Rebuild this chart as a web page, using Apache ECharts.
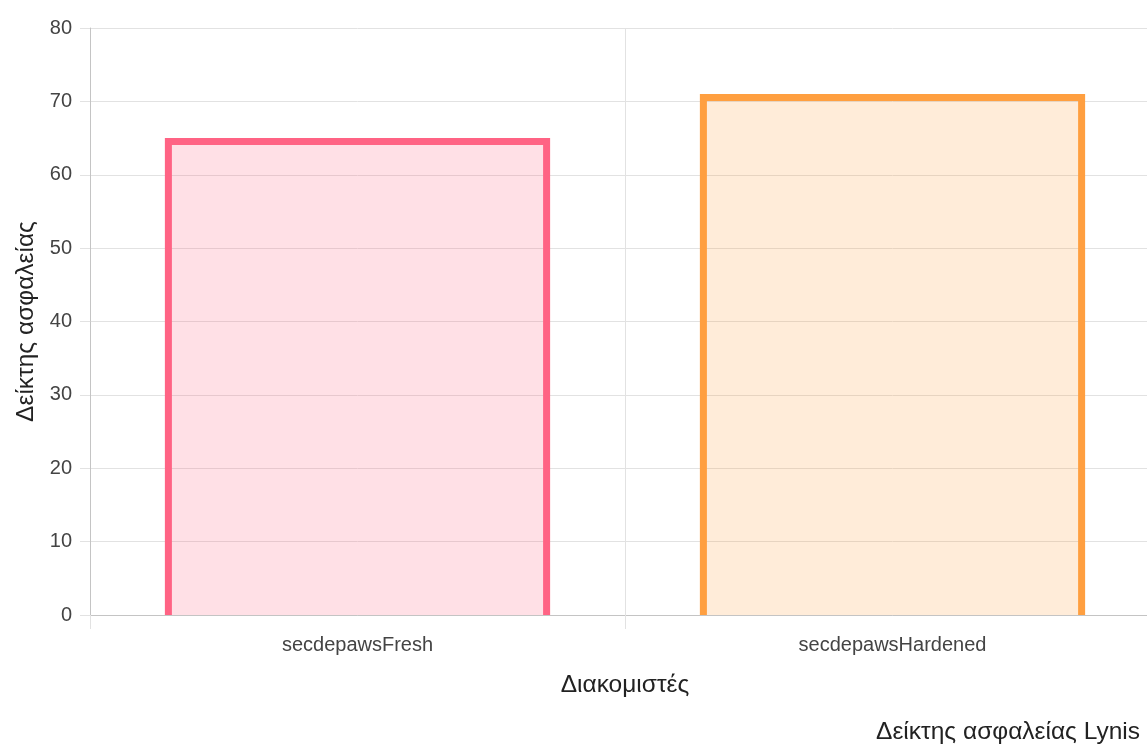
<!DOCTYPE html>
<html>
<head>
<meta charset="utf-8">
<script src="https://cdn.jsdelivr.net/npm/echarts@6/dist/echarts.min.js"></script>
<style>
  html, body { margin: 0; padding: 0; background: #fff; overflow: hidden; }
  /* the plot runs a little past the right edge of the window */
  #chart { width: 1160px; height: 747px; }
</style>
</head>
<body>
<div id="chart"></div>
<script>
// Lynis hardening index per server
const servers = ['secdepawsFresh', 'secdepawsHardened'];
const scores = [65, 71];
const borderColors = ['rgb(255,99,132)', 'rgb(255,159,64)'];
const fillColors = ['rgba(255,99,132,0.2)', 'rgba(255,159,64,0.2)'];

const FONT = '"Liberation Sans", Arial, sans-serif';
const BAR_RATIO = 0.72;
const BORDER = 7;

const chart = echarts.init(document.getElementById('chart'), null, { renderer: 'canvas' });

chart.setOption({
  animation: false,
  backgroundColor: '#fff',
  textStyle: { fontFamily: FONT },
  title: {
    text: 'Δείκτης ασφαλείας Lynis',
    right: 20,
    bottom: 2,
    padding: 0,
    textStyle: { fontFamily: FONT, fontSize: 24.5, fontWeight: 'normal', color: '#222' }
  },
  grid: { left: 90, top: 28, right: 0, bottom: 132, containLabel: false },
  xAxis: {
    type: 'category',
    data: servers,
    boundaryGap: true,
    name: 'Διακομιστές',
    nameLocation: 'middle',
    nameGap: 58,
    nameTextStyle: { fontFamily: FONT, fontSize: 24.5, color: '#222', verticalAlign: 'top' },
    axisLine: { show: true, lineStyle: { color: '#c4c4c4', width: 1 } },
    axisTick: { show: true, length: 14, lineStyle: { color: '#e2e2e2' } },
    splitLine: { show: true, lineStyle: { color: '#e2e2e2', width: 1 } },
    axisLabel: { fontFamily: FONT, fontSize: 20, color: '#444', margin: 20 }
  },
  yAxis: {
    type: 'value',
    min: 0,
    max: 80,
    interval: 10,
    name: 'Δείκτης ασφαλείας',
    nameLocation: 'middle',
    nameGap: 48,
    nameTextStyle: { fontFamily: FONT, fontSize: 24.5, color: '#222' },
    axisLine: { show: true, lineStyle: { color: '#c4c4c4', width: 1 } },
    axisTick: { show: true, length: 10, lineStyle: { color: '#e2e2e2' } },
    splitLine: { show: true, lineStyle: { color: '#e2e2e2', width: 1 } },
    axisLabel: { fontFamily: FONT, fontSize: 20, color: '#444', margin: 18 }
  },
  series: [{
    type: 'custom',
    data: servers.map((s, i) => [i, scores[i]]),
    encode: { x: 0, y: 1 },
    renderItem: function (params, api) {
      const i = api.value(0);
      const top = api.coord([i, api.value(1)]);
      const base = api.coord([i, 0]);
      const w = api.size([1, 0])[0] * BAR_RATIO;
      const x0 = top[0] - w / 2;
      const x1 = top[0] + w / 2;
      const h = BORDER / 2;
      return {
        type: 'group',
        children: [
          {
            type: 'rect',
            shape: { x: x0, y: top[1], width: w, height: base[1] - top[1] },
            style: { fill: fillColors[i] }
          },
          {
            type: 'polyline',
            shape: {
              points: [
                [x0 + h, base[1]],
                [x0 + h, top[1] + h],
                [x1 - h, top[1] + h],
                [x1 - h, base[1]]
              ]
            },
            style: { stroke: borderColors[i], lineWidth: BORDER, fill: null, lineJoin: 'miter' }
          }
        ]
      };
    }
  }]
});
</script>
</body>
</html>
